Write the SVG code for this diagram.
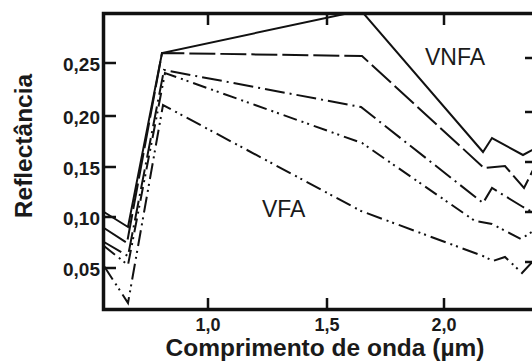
<svg xmlns="http://www.w3.org/2000/svg" width="532" height="361" viewBox="0 0 532 361">
<style>
.ax{fill:none;stroke:#111;stroke-width:3.5;stroke-linecap:square}
.tk{fill:none;stroke:#111;stroke-width:2.5}
.c{fill:none;stroke:#111;stroke-width:2;stroke-linejoin:miter}
.s2{stroke-dasharray:26 5}
.s3{stroke-dasharray:20 5 2 5}
.s4{stroke-dasharray:14 5 2 4 2 5}
.s5{stroke-dasharray:16 5 2 4 2 5}
.tl{font-family:"Liberation Sans",Arial,sans-serif;font-weight:bold;font-size:19px;fill:#1a1a1a}
.tx{font-family:"Liberation Sans",Arial,sans-serif;font-weight:bold;font-size:18px;fill:#1a1a1a}
.tt{font-family:"Liberation Sans",Arial,sans-serif;font-weight:bold;font-size:24.5px;fill:#1a1a1a}
.lb{font-family:"Liberation Sans",Arial,sans-serif;font-size:23px;fill:#1a1a1a}
</style>
<defs>
<clipPath id="plot"><rect x="103" y="13" width="429" height="297"/></clipPath>
</defs>
<rect width="532" height="361" fill="#fff"/>
<g id="curves" clip-path="url(#plot)">
<polyline id="c-solid" class="c" points="104,212 128,227 162,53 361,10.5 483,152 492,138 523,155 538,147"/>
<polyline id="c-longdash" class="c s2" points="104,228 127,243 162,53 362,56 484,168 505,166 524,188 538,160"/>
<polyline id="c-dashdot" class="c s3" points="104,242 128,256 164,70 361,107 483,203 492,188 523,207 538,215"/>
<polyline id="c-dashdotdot" class="c s4" points="104,246 128,265 165,73 362,143 475,221 492,224 521,239 538,228"/>
<polyline id="c-vfa" class="c s5" points="104,266 128,303 163,105 361,211 483,256 493,261 505,257 522,273 538,256"/>
</g>
<g id="axes">
<polyline class="ax" points="532,13.5 103.5,13.5 103.5,309.5 532,309.5"/>
<path class="tk" d="M103,63H116M103,116H116M103,167H116M103,217H116M103,268H116"/>
<path class="tk" d="M532,58H525M532,112H525M532,162H525M532,212H525M532,262H525"/>
<path class="tk" d="M208,13V25M327,13V25M444,13V25"/>
<path class="tk" d="M208,310V298M327,310V298M444,310V298"/>
</g>
<g id="ylabels" class="tl" text-anchor="end">
<text x="100" y="71">0,25</text>
<text x="100" y="124">0,20</text>
<text x="100" y="175">0,15</text>
<text x="100" y="225">0,10</text>
<text x="100" y="276">0,05</text>
</g>
<g id="xlabels" class="tx" text-anchor="middle">
<text x="208" y="331">1,0</text>
<text x="327" y="331">1,5</text>
<text x="444" y="331">2,0</text>
</g>
<text class="tt" text-anchor="middle" transform="translate(32,146) rotate(-90)">Reflectância</text>
<text class="tt" text-anchor="middle" x="325" y="356">Comprimento de onda (µm)</text>
<text class="lb" x="425" y="65">VNFA</text>
<text class="lb" x="262" y="217">VFA</text>
</svg>
